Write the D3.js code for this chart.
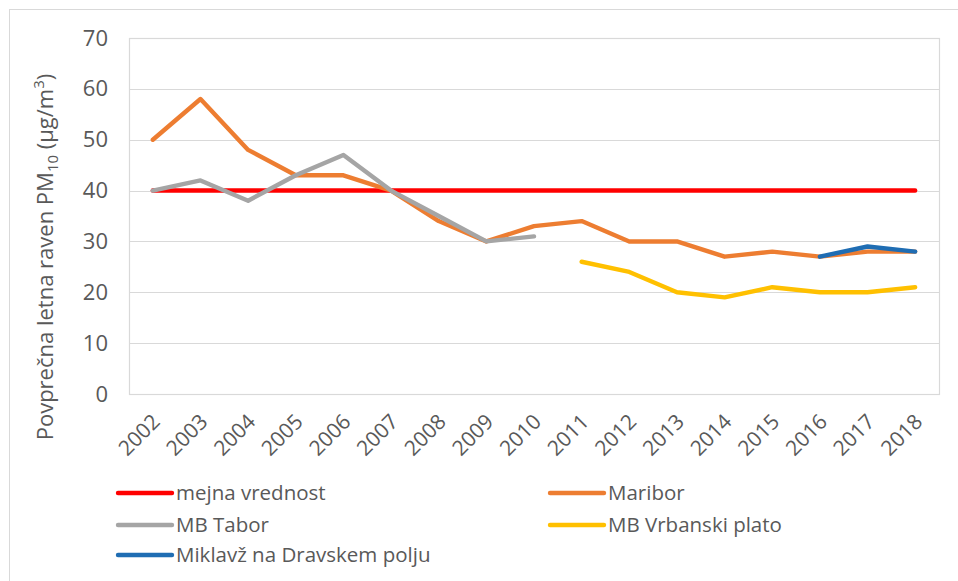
<!DOCTYPE html>
<html>
<head>
<meta charset="utf-8">
<script src="https://cdn.jsdelivr.net/npm/d3@7"></script>
<style>
  body { margin: 0; background: #fff; }
  text { font-family: "Open Sans", sans-serif; fill: #595959; }
</style>
</head>
<body>
<div id="chart"></div>
<script>
// Data
const years = ["2002","2003","2004","2005","2006","2007","2008","2009","2010",
               "2011","2012","2013","2014","2015","2016","2017","2018"];
const mejnaVrednost = [40,40,40,40,40,40,40,40,40,40,40,40,40,40,40,40,40];
const maribor = [50,58,48,43,43,40,34,30,33,34,30,30,27,28,27,28,28];
const mbTabor = [40,42,38,43,47,40,35,30,31,null,null,null,null,null,null,null,null];
const mbVrbanski = [null,null,null,null,null,null,null,null,null,26,24,20,19,21,20,20,21];
const miklavz = [null,null,null,null,null,null,null,null,null,null,null,null,null,null,27,29,28];
const yTicks = [0,10,20,30,40,50,60,70];

const series = [
  { name: "mejna vrednost", values: mejnaVrednost, color: "#ff0000" },
  { name: "Maribor", values: maribor, color: "#ed7d31" },
  { name: "MB Tabor", values: mbTabor, color: "#a5a5a5" },
  { name: "MB Vrbanski plato", values: mbVrbanski, color: "#ffc000" },
  { name: "Miklavž na Dravskem polju", values: miklavz, color: "#1f6db3" }
];

const W = 958, H = 581;
const plot = { left: 129, right: 939, top: 38, bottom: 394 };

const svg = d3.select("#chart").append("svg")
  .attr("width", W)
  .attr("height", H);

// outer chart border
svg.append("rect")
  .attr("x", 9.5).attr("y", 9.5)
  .attr("width", W + 10).attr("height", H + 10)
  .attr("fill", "none")
  .attr("stroke", "#d9d9d9");

const x = d3.scalePoint()
  .domain(years)
  .range([plot.left, plot.right])
  .padding(0.5);

const y = d3.scaleLinear()
  .domain([0, 70])
  .range([plot.bottom, plot.top]);

// gridlines
svg.append("g")
  .selectAll("line")
  .data(yTicks)
  .join("line")
  .attr("x1", plot.left)
  .attr("x2", plot.right)
  .attr("y1", d => Math.round(y(d)) + 0.5)
  .attr("y2", d => Math.round(y(d)) + 0.5)
  .attr("stroke", "#d9d9d9")
  .attr("stroke-width", 1.2);

// plot area border
svg.append("rect")
  .attr("x", plot.left + 0.5).attr("y", Math.round(y(70)) + 0.5)
  .attr("width", plot.right - plot.left)
  .attr("height", Math.round(y(0)) - Math.round(y(70)))
  .attr("fill", "none")
  .attr("stroke", "#d9d9d9")
  .attr("stroke-width", 1.2);

// y axis labels
const yAxis = svg.append("g")
  .attr("transform", `translate(${plot.left - 21},0)`)
  .call(d3.axisLeft(y).tickValues(yTicks).tickSize(0).tickPadding(0));
yAxis.select(".domain").remove();
yAxis.selectAll("text")
  .attr("font-size", 22)
  .attr("font-family", "Open Sans, sans-serif")
  .attr("fill", "#595959");

// x axis labels
const xAxis = svg.append("g")
  .attr("transform", `translate(0,${plot.bottom})`)
  .call(d3.axisBottom(x).tickSize(0).tickPadding(0));
xAxis.select(".domain").remove();
xAxis.selectAll("text")
  .attr("font-size", 21)
  .attr("font-family", "Open Sans, sans-serif")
  .attr("fill", "#595959")
  .attr("text-anchor", "end")
  .attr("dy", null)
  .attr("y", 0)
  .attr("transform", "translate(8,29) rotate(-45)");

// y axis title
const title = svg.append("text")
  .attr("transform", "translate(53,257) rotate(-90)")
  .attr("text-anchor", "middle")
  .attr("font-size", 22);
title.append("tspan").text("Povprečna letna raven PM");
title.append("tspan").attr("font-size", 15).attr("dy", 5).text("10");
title.append("tspan").attr("dy", -5).text(" (µg/m");
title.append("tspan").attr("font-size", 15).attr("dy", -9).text("3");
title.append("tspan").attr("dy", 9).text(")");

// lines
const line = d3.line()
  .defined(d => d.v != null)
  .x(d => x(d.year))
  .y(d => y(d.v));

svg.append("g")
  .selectAll("path")
  .data(series)
  .join("path")
  .attr("d", s => line(years.map((yr, i) => ({ year: yr, v: s.values[i] }))))
  .attr("fill", "none")
  .attr("stroke", s => s.color)
  .attr("stroke-width", 4.4)
  .attr("stroke-linejoin", "round")
  .attr("stroke-linecap", "round");

// legend
const legendCols = [118, 550];
const legendRows = [493, 525, 555];
const legend = svg.append("g")
  .selectAll("g")
  .data(series)
  .join("g")
  .attr("transform", (d, i) => `translate(${legendCols[i % 2]},${legendRows[Math.floor(i / 2)]})`);

legend.append("line")
  .attr("x1", 0).attr("x2", 54)
  .attr("y1", 0).attr("y2", 0)
  .attr("stroke", d => d.color)
  .attr("stroke-width", 4.4)
  .attr("stroke-linecap", "round");

legend.append("text")
  .attr("x", 58)
  .attr("y", 0)
  .attr("dy", "0.35em")
  .attr("font-size", 20.5)
  .text(d => d.name);
</script>
</body>
</html>
